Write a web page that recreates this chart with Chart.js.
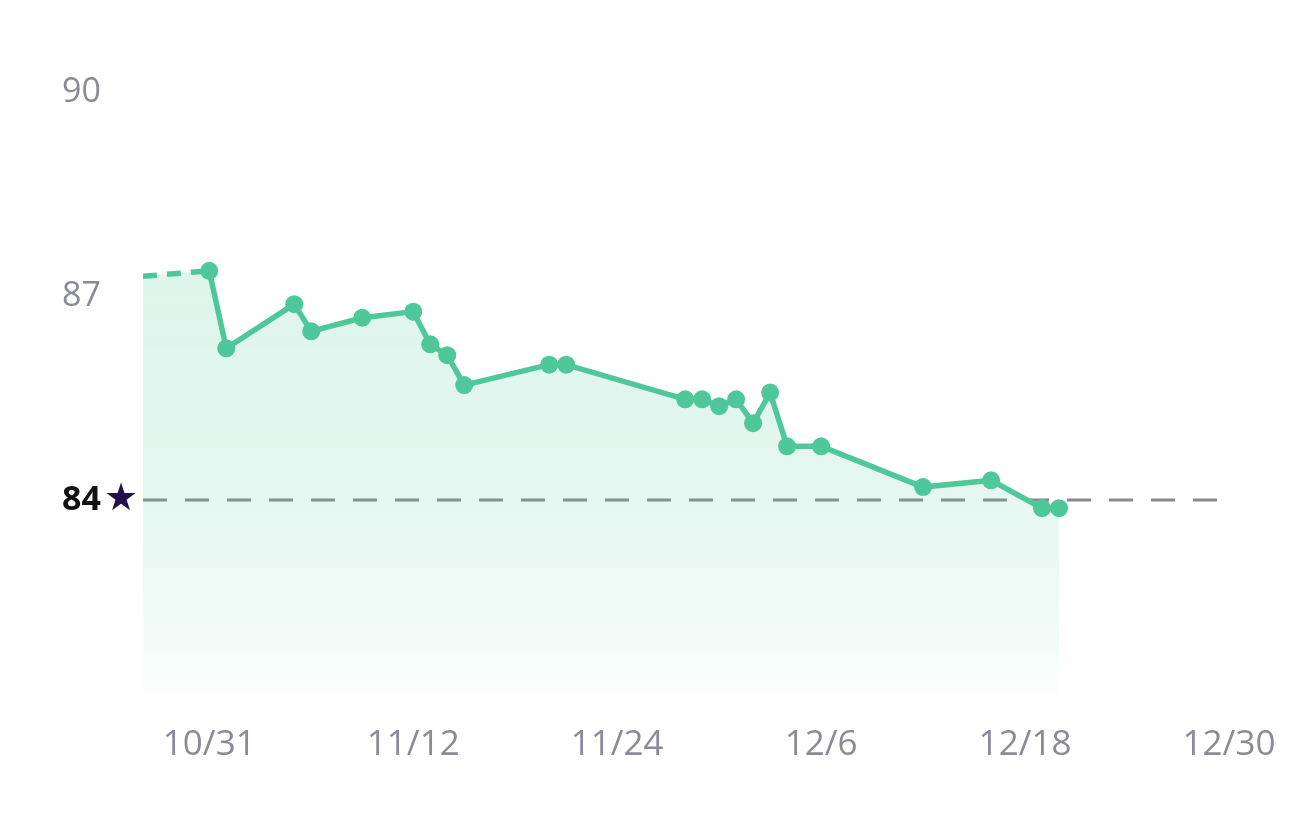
<!DOCTYPE html>
<html>
<head>
<meta charset="utf-8">
<script src="https://cdn.jsdelivr.net/npm/chart.js@4.4.1/dist/chart.umd.min.js"></script>
<style>
  html, body { margin: 0; padding: 0; background: #fff; }
  #wrap { width: 1290px; height: 820px; position: relative; }
</style>
</head>
<body>
<div id="wrap"><canvas id="scoreChart"></canvas></div>
<script>
// hari dihitung dari 10/31 (0 = 10/31)
const days = [-3.9, 0, 1, 5, 6, 9, 12, 13, 14, 15, 20, 21, 28, 29, 30, 31, 32, 33, 34, 36, 42, 46, 49, 50];
const values = [87.29, 87.37, 86.23, 86.88, 86.48, 86.68, 86.77, 86.29, 86.13, 85.69, 85.99, 85.99,
                85.48, 85.48, 85.38, 85.48, 85.13, 85.58, 84.79, 84.79, 84.19, 84.29, 83.88, 83.88];
const tickDays = [0, 12, 24, 36, 48, 60];
const tickLabels = ['10/31', '11/12', '11/24', '12/6', '12/18', '12/30'];
const yTicks = [84, 87, 90];
const target = 84;

const green = '#4ec89a';
const gray = '#8a8b96';
const FONT = "'Open Sans', sans-serif";

const isTarget = c => !!(c && c.tick && c.tick.value === target);
const points = days.map((d, i) => ({ x: d, y: values[i] }));

// garis target putus-putus + bintang di samping label 84
const targetPlugin = {
    id: 'targetLine',
    beforeDatasetsDraw(chart) {
        const { ctx, chartArea } = chart;
        const y = chart.scales.y.getPixelForValue(target);
        ctx.save();
        ctx.strokeStyle = '#878a91';
        ctx.lineWidth = 3;
        ctx.setLineDash([24, 18]);
        ctx.beginPath();
        ctx.moveTo(chartArea.left, y);
        ctx.lineTo(chartArea.right, y);
        ctx.stroke();
        ctx.restore();
    },
    afterDraw(chart) {
        const { ctx } = chart;
        const y = chart.scales.y.getPixelForValue(target);
        ctx.save();
        ctx.fillStyle = '#22104a';
        ctx.font = "38px 'DejaVu Sans'";
        ctx.textAlign = 'center';
        ctx.textBaseline = 'middle';
        ctx.fillText('\u2605', 121, y);
        ctx.restore();
    }
};

function fillGradient(context) {
    const { ctx, chartArea } = context.chart;
    if (!chartArea) return 'rgba(78,200,154,0.2)';
    const g = ctx.createLinearGradient(0, chartArea.top, 0, chartArea.bottom);
    g.addColorStop(0, 'rgba(78,200,154,0.22)');
    g.addColorStop(0.6, 'rgba(78,200,154,0.16)');
    g.addColorStop(0.9, 'rgba(78,200,154,0.07)');
    g.addColorStop(1, 'rgba(78,200,154,0)');
    return g;
}

document.addEventListener('DOMContentLoaded', () => {
    const ctx = document.getElementById('scoreChart');

    new Chart(ctx, {
        type: 'line',
        data: {
            datasets: [
                {
                    // garis + titik
                    data: points,
                    borderColor: green,
                    borderWidth: 5.5,
                    fill: false,
                    tension: 0,
                    pointRadius: c => c.dataIndex === 0 ? 0 : 9,
                    pointBackgroundColor: green,
                    pointBorderWidth: 0,
                    segment: {
                        borderDash: c => c.p0DataIndex === 0 ? [14, 10] : undefined
                    }
                },
                {
                    // area gradasi di bawah garis
                    data: points,
                    borderWidth: 0,
                    borderColor: 'rgba(0,0,0,0)',
                    backgroundColor: fillGradient,
                    fill: 'start',
                    tension: 0,
                    pointRadius: 0
                }
            ]
        },
        options: {
            responsive: true,
            maintainAspectRatio: false,
            animation: false,
            layout: { padding: { left: 62, top: 92, right: 61, bottom: 34 } },
            scales: {
                x: {
                    type: 'linear',
                    min: -3.9,
                    max: 60,
                    grid: { display: false, drawTicks: false },
                    border: { display: false },
                    afterBuildTicks: s => { s.ticks = tickDays.map(v => ({ value: v })); },
                    afterFit: s => { s.paddingRight = 0; },
                    ticks: {
                        padding: 20,
                        color: gray,
                        font: { family: FONT, size: 35 },
                        maxRotation: 0,
                        callback: v => tickLabels[tickDays.indexOf(v)]
                    }
                },
                y: {
                    min: 81,
                    max: 90,
                    grid: { display: false, drawTicks: false },
                    border: { display: false },
                    afterBuildTicks: s => { s.ticks = yTicks.map(v => ({ value: v })); },
                    afterFit: s => { s.width = 81; },
                    ticks: {
                        crossAlign: 'far',
                        color: c => isTarget(c) ? '#111111' : gray,
                        font: c => isTarget(c)
                            ? { family: FONT, size: 34, weight: 'bold' }
                            : { family: FONT, size: 34 }
                    }
                }
            },
            plugins: {
                legend: { display: false },
                tooltip: { enabled: false }
            }
        },
        plugins: [targetPlugin]
    });
});
</script>
</body>
</html>
